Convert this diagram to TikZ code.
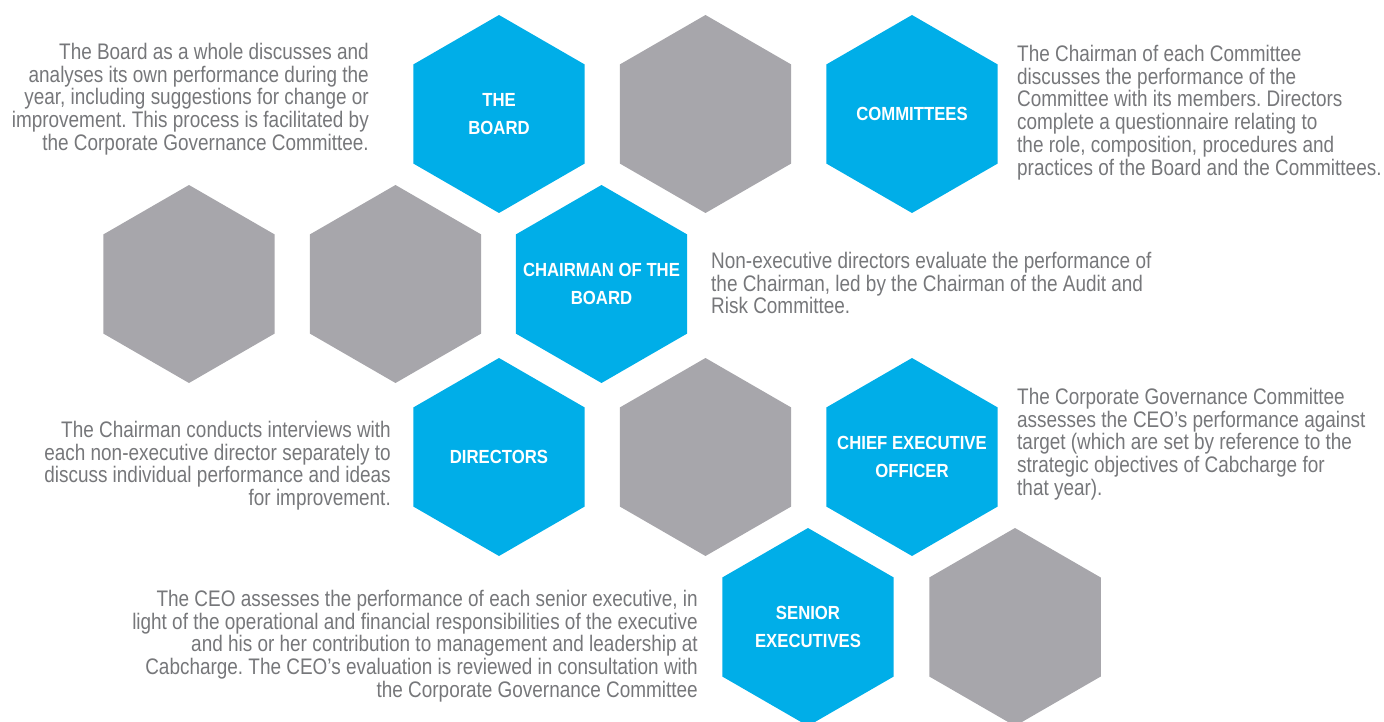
\documentclass[tikz,border=0pt]{standalone}
\usepackage{fontspec}
\setmainfont{Liberation Sans}
\newfontfamily\bodyfont[FakeStretch=0.842]{Liberation Sans}
\newfontfamily\labelfont[FakeStretch=0.88]{Liberation Sans}
\usetikzlibrary{shapes.geometric}
\definecolor{hexblue}{HTML}{00AEE8}
\definecolor{hexgray}{HTML}{A7A6AB}
\definecolor{bodygray}{HTML}{76777A}
\frenchspacing
\begin{document}
\begin{tikzpicture}[x=1pt,y=-1pt,
  hex/.style={regular polygon, regular polygon sides=6, shape border rotate=30,
    minimum size=198pt, inner sep=0pt, outer sep=0pt, draw=none},
  bluehex/.style={hex, fill=hexblue},
  grayhex/.style={hex, fill=hexgray},
  hexlabel/.style={text=white, align=center, inner sep=0pt,
    font=\labelfont\bfseries\fontsize{19}{28}\selectfont},
  note/.style={text=bodygray, inner sep=0pt,
    font=\bodyfont\fontsize{22.5}{22.7}\selectfont},
  noteleft/.style={note, align=left, anchor=north west},
  noteright/.style={note, align=right, anchor=north east}]
\useasboundingbox (0,0) rectangle (1384,722);

% honeycomb, row by row
\node[bluehex] (board) at (499,114) {};
\node[grayhex] (g1)    at (705.5,114) {};
\node[bluehex] (comm)  at (912,114) {};

\node[grayhex] (g2)    at (189,284) {};
\node[grayhex] (g3)    at (395.5,284) {};
\node[bluehex] (chair) at (601.5,284) {};

\node[bluehex] (dir)   at (499,457) {};
\node[grayhex] (g4)    at (705.5,457) {};
\node[bluehex] (ceo)   at (912,457) {};

\node[bluehex] (senior) at (808,627) {};
\node[grayhex] (g5)     at (1015,627) {};

% labels inside the blue cells
\node[hexlabel] (boardL)  at (board)  {THE\\BOARD};
\node[hexlabel] (commL)   at (comm)   {COMMITTEES};
\node[hexlabel] (chairL)  at (chair)  {CHAIRMAN OF THE\\BOARD};
\node[hexlabel] (dirL)    at (dir)    {DIRECTORS};
\node[hexlabel] (ceoL)    at (ceo)    {CHIEF EXECUTIVE\\OFFICER};
\node[hexlabel] (seniorL) at (senior) {SENIOR\\EXECUTIVES};

% descriptions
\node[noteright] (boardT) at (369,43) {The Board as a whole discusses and\\
analyses its own performance during the\\
year, including suggestions for change or\\
improvement. This process is facilitated by\\
the Corporate Governance Committee.};

\node[noteleft] (commT) at (1017,45) {The Chairman of each Committee\\
discusses the performance of the\\
Committee with its members. Directors\\
complete a questionnaire relating to\\
the role, composition, procedures and\\
practices of the Board and the Committees.};

\node[noteleft] (chairT) at (711,252) {Non-executive directors evaluate the performance of\\
the Chairman, led by the Chairman of the Audit and\\
Risk Committee.};

\node[noteright] (dirT) at (391,421) {The Chairman conducts interviews with\\
each non-executive director separately to\\
discuss individual performance and ideas\\
for improvement.};

\node[noteleft] (ceoT) at (1017,388) {The Corporate Governance Committee\\
assesses the CEO’s performance against\\
target (which are set by reference to the\\
strategic objectives of Cabcharge for\\
that year).};

\node[noteright] (seniorT) at (698,590) {The CEO assesses the performance of each senior executive, in\\
light of the operational and financial responsibilities of the executive\\
and his or her contribution to management and leadership at\\
Cabcharge. The CEO’s evaluation is reviewed in consultation with\\
the Corporate Governance Committee};
\end{tikzpicture}
\end{document}
